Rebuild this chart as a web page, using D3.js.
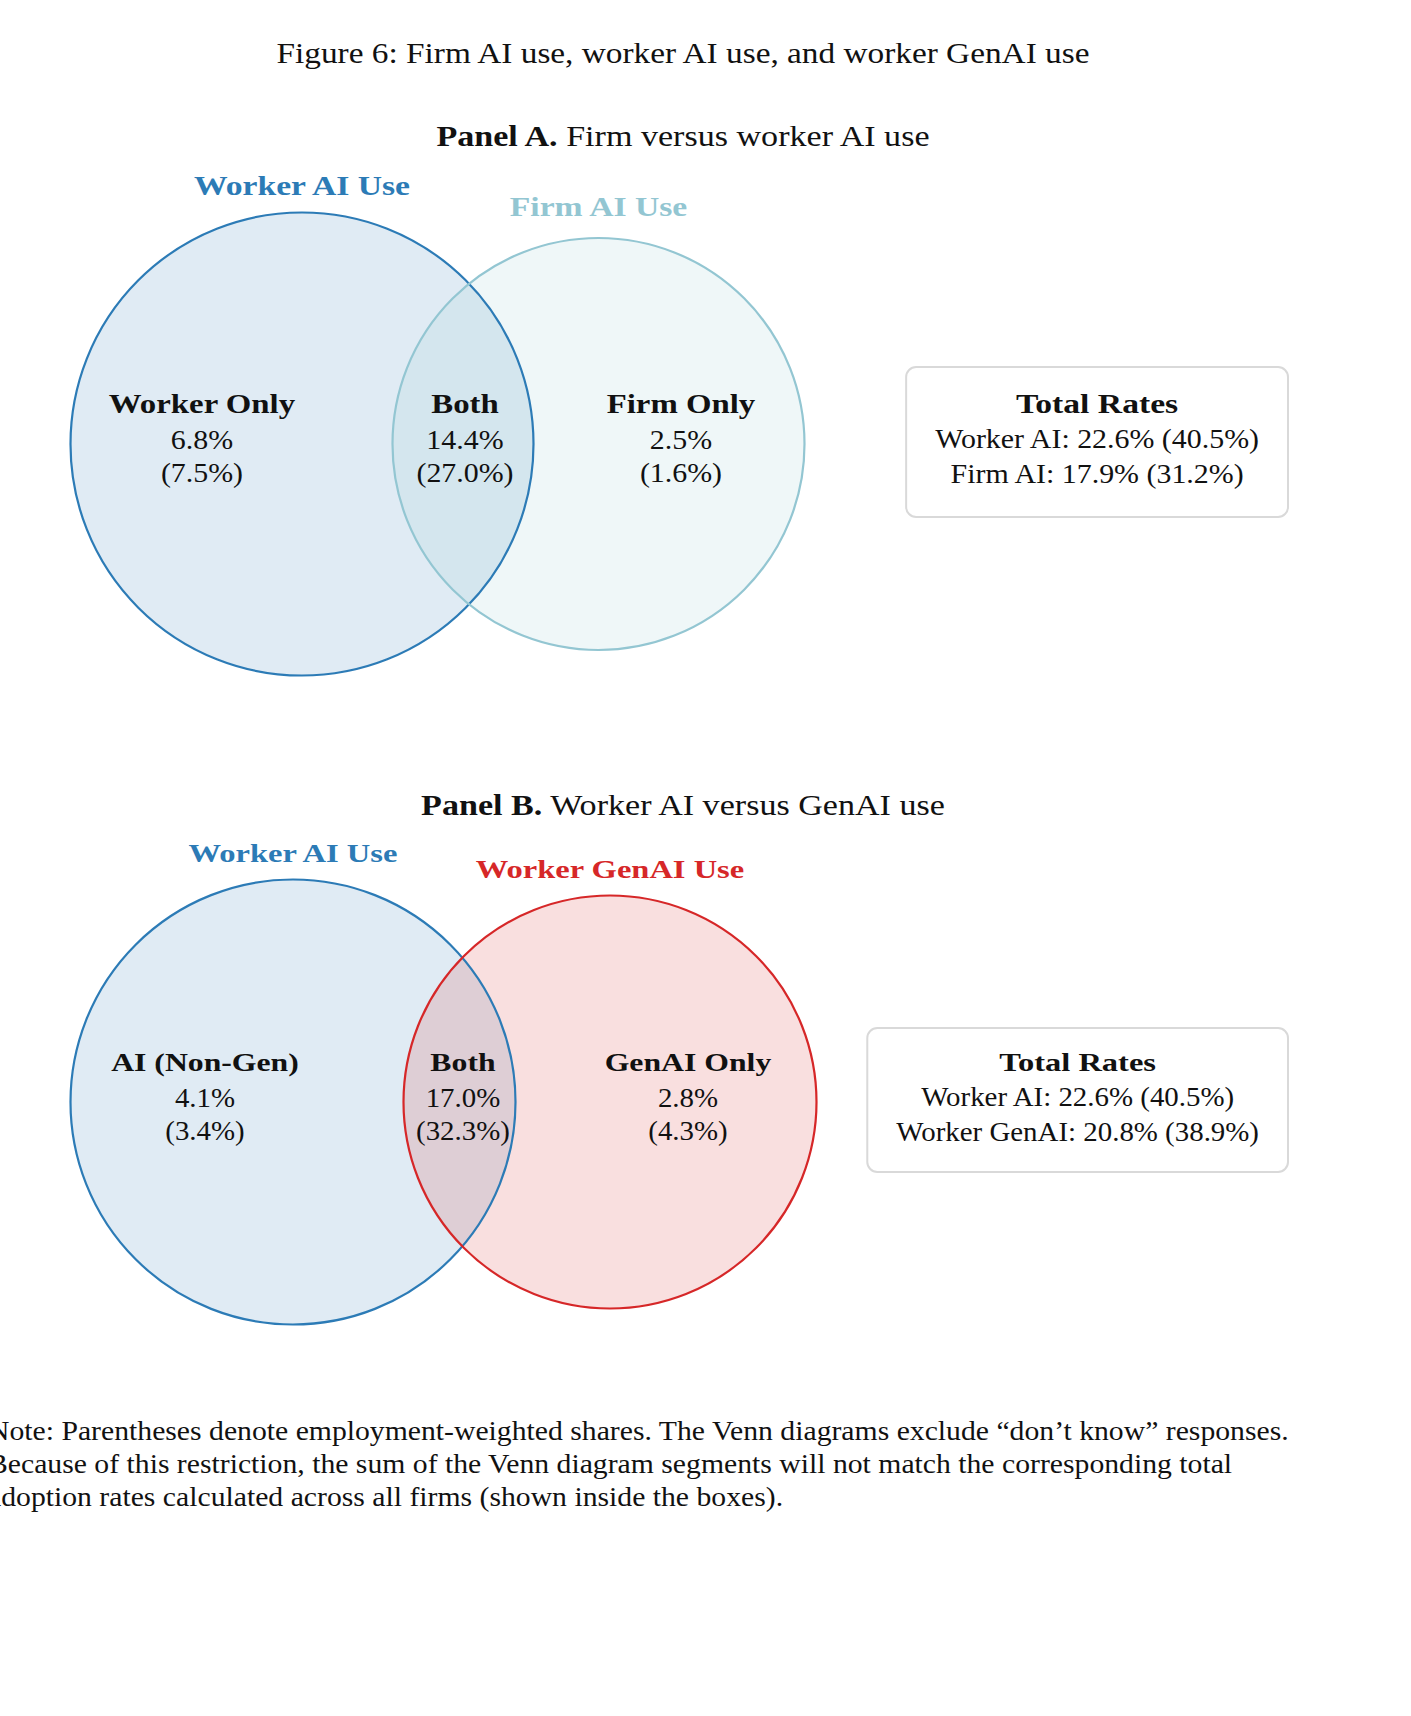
<!DOCTYPE html>
<html>
<head>
<meta charset="utf-8">
<script src="https://cdn.jsdelivr.net/npm/d3@7"></script>
<style>
  html, body { margin: 0; padding: 0; background: #fff; }
  svg { display: block; }
</style>
</head>
<body>
<script>
// ---------------- DATA ----------------
const figureTitle = "Figure 6: Firm AI use, worker AI use, and worker GenAI use";

const panelBold = ["Panel A.", "Panel B."];
const panelRest = ["Firm versus worker AI use", "Worker AI versus GenAI use"];

// Panel A
const setNamesA = ["Worker AI Use", "Firm AI Use"];
const regionNamesA = ["Worker Only", "Both", "Firm Only"];
const regionSharesA = [6.8, 14.4, 2.5];
const regionWeightedA = [7.5, 27.0, 1.6];
const totalNamesA = ["Worker AI", "Firm AI"];
const totalSharesA = [22.6, 17.9];
const totalWeightedA = [40.5, 31.2];

// Panel B
const setNamesB = ["Worker AI Use", "Worker GenAI Use"];
const regionNamesB = ["AI (Non-Gen)", "Both", "GenAI Only"];
const regionSharesB = [4.1, 17.0, 2.8];
const regionWeightedB = [3.4, 32.3, 4.3];
const totalNamesB = ["Worker AI", "Worker GenAI"];
const totalSharesB = [22.6, 20.8];
const totalWeightedB = [40.5, 38.9];

const noteLines = [
  "Note: Parentheses denote employment-weighted shares. The Venn diagrams exclude \u201cdon\u2019t know\u201d responses.",
  "Because of this restriction, the sum of the Venn diagram segments will not match the corresponding total",
  "adoption rates calculated across all firms (shown inside the boxes)."
];

// ---------------- STYLE / LAYOUT ----------------
const W = 1411, H = 1716;
const FONT = "'Liberation Serif', 'Times New Roman', serif";
const K_REG = 1.07, K_BOLD = 1.25;   // widen Times-like glyphs toward Computer Modern widths
const colWorker = "#2c7bb6", colFirm = "#93c6d2", colGen = "#d62728";
const fmt = v => d3.format(".1f")(v) + "%";

const svg = d3.select("body").append("svg")
  .attr("width", W).attr("height", H)
  .attr("font-family", FONT);
svg.append("rect").attr("width", W).attr("height", H).attr("fill", "#fff");

function stretch(sel, k) {
  sel.each(function () {
    const w = this.getComputedTextLength();
    d3.select(this).attr("textLength", w * k).attr("lengthAdjust", "spacingAndGlyphs");
  });
  return sel;
}

// Figure title
stretch(svg.append("text")
  .attr("x", 683).attr("y", 63).attr("text-anchor", "middle")
  .attr("font-size", 30).attr("fill", "#111").text(figureTitle), 1.11);

const panels = [
  { bold: panelBold[0], rest: panelRest[0], titleY: 146, s: 1.035,
    sets: setNamesA, regions: regionNamesA, shares: regionSharesA, weighted: regionWeightedA,
    totNames: totalNamesA, totShares: totalSharesA, totWeighted: totalWeightedA,
    colors: [colWorker, colFirm],
    cx: [302, 598.5], cy: 444, rRange: [206, 231.5],
    labelX: [202, 465, 681], labelGap: [18, 22], boxPad: [46, 34] },
  { bold: panelBold[1], rest: panelRest[1], titleY: 815, s: 1.0,
    sets: setNamesB, regions: regionNamesB, shares: regionSharesB, weighted: regionWeightedB,
    totNames: totalNamesB, totShares: totalSharesB, totWeighted: totalWeightedB,
    colors: [colWorker, colGen],
    cx: [293, 610], cy: 1102, rRange: [206.5, 222.5],
    labelX: [205, 463, 688], labelGap: [18, 18], boxPad: [43, 31] }
];

panels.forEach(p => {
  const g = svg.append("g");
  const fsB = 26 * p.s, fsR = 27 * p.s;

  // panel title
  const t = g.append("text").attr("x", 683).attr("y", p.titleY)
    .attr("text-anchor", "middle").attr("font-size", 29).attr("fill", "#111");
  t.append("tspan").attr("font-weight", "bold").text(p.bold);
  t.append("tspan").text(" " + p.rest);
  stretch(t, 1.175);

  // radius scale from total adoption rates
  const r = d3.scaleLinear()
    .domain(d3.extent(p.totShares))
    .range(p.rRange);
  const circles = p.totShares.map((v, i) => ({ cx: p.cx[i], cy: p.cy, r: r(v), color: p.colors[i], name: p.sets[i], gap: p.labelGap[i] }));

  g.selectAll("circle.fill").data(circles).join("circle")
    .attr("class", "fill")
    .attr("cx", d => d.cx).attr("cy", d => d.cy).attr("r", d => d.r)
    .attr("fill", d => d.color).attr("fill-opacity", 0.15).attr("stroke", "none");
  g.selectAll("circle.edge").data(circles).join("circle")
    .attr("class", "edge")
    .attr("cx", d => d.cx).attr("cy", d => d.cy).attr("r", d => d.r)
    .attr("fill", "none").attr("stroke", d => d.color).attr("stroke-width", 2.2);

  // set names above circles
  stretch(g.selectAll("text.set").data(circles).join("text")
    .attr("class", "set")
    .attr("x", d => d.cx).attr("y", d => d.cy - d.r - d.gap)
    .attr("text-anchor", "middle").attr("font-size", fsB).attr("font-weight", "bold")
    .attr("fill", d => d.color).text(d => d.name), K_BOLD);

  // region labels
  const regs = p.regions.map((n, i) => ({ name: n, s: p.shares[i], w: p.weighted[i], x: p.labelX[i] }));
  const rg = g.selectAll("g.reg").data(regs).join("g").attr("class", "reg");
  stretch(rg.append("text").attr("x", d => d.x).attr("y", p.cy - 31)
    .attr("text-anchor", "middle").attr("font-size", fsB).attr("font-weight", "bold")
    .attr("fill", "#111").text(d => d.name), 1.22);
  stretch(rg.append("text").attr("x", d => d.x).attr("y", p.cy + 5)
    .attr("text-anchor", "middle").attr("font-size", fsR)
    .attr("fill", "#111").text(d => fmt(d.s)), K_REG);
  stretch(rg.append("text").attr("x", d => d.x).attr("y", p.cy + 38)
    .attr("text-anchor", "middle").attr("font-size", fsR)
    .attr("fill", "#111").text(d => "(" + fmt(d.w) + ")"), K_REG);

  // totals box
  const bg = g.append("g");
  const rect = bg.append("rect");
  const lines = [
    { text: "Total Rates", bold: true },
    ...p.totNames.map((n, i) => ({ text: `${n}: ${fmt(p.totShares[i])} (${fmt(p.totWeighted[i])})`, bold: false }))
  ];
  const boxRight = 1288;
  const lt = bg.selectAll("text").data(lines).join("text")
    .attr("y", (d, i) => p.cy - 31 + i * 35)
    .attr("text-anchor", "middle")
    .attr("font-size", d => d.bold ? fsB : fsR)
    .attr("font-weight", d => d.bold ? "bold" : "normal")
    .attr("fill", "#111").text(d => d.text);
  lt.each(function (d) {
    const w = this.getComputedTextLength() * (d.bold ? K_BOLD : K_REG);
    d.w = w;
    d3.select(this).attr("textLength", w).attr("lengthAdjust", "spacingAndGlyphs");
  });
  const maxW = d3.max(lines, d => d.w);
  const boxW = maxW + 58;
  const bx = boxRight - boxW;
  lt.attr("x", bx + boxW / 2);
  const top = p.cy - 31 - p.boxPad[0], bottom = p.cy - 31 + 70 + p.boxPad[1];
  rect.attr("x", bx).attr("y", top).attr("width", boxW).attr("height", bottom - top)
    .attr("rx", 10).attr("ry", 10)
    .attr("fill", "#fff").attr("stroke", "#d9d9d9").attr("stroke-width", 2);
});

// Note
stretch(svg.append("g").selectAll("text").data(noteLines).join("text")
  .attr("x", -12).attr("y", (d, i) => 1440 + i * 33)
  .attr("font-size", 27).attr("fill", "#111").text(d => d), 1.10);
</script>
</body>
</html>
